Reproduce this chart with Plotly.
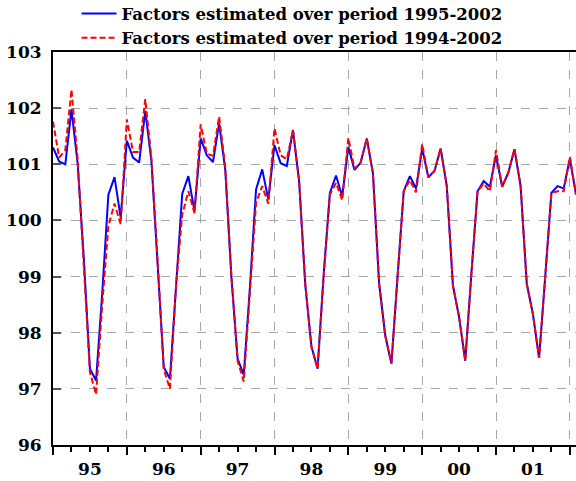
import plotly.graph_objects as go

# monthly index 0 = Jan 1995 ... 85 = Feb 2002
year_labels = ["95", "96", "97", "98", "99", "00", "01"]

f_1995_2002 = [
    101.30, 101.05, 101.00, 101.98, 101.02, 99.34, 97.36, 97.15, 98.70, 100.46, 100.77, 100.05,
    101.42, 101.12, 101.03, 101.95, 101.05, 99.28, 97.39, 97.18, 98.90, 100.47, 100.79, 100.16,
    101.46, 101.16, 101.04, 101.73, 100.90, 98.98, 97.54, 97.25, 98.80, 100.55, 100.91, 100.37,
    101.34, 101.02, 100.97, 101.61, 100.70, 98.85, 97.76, 97.36, 99.05, 100.49, 100.80, 100.43,
    101.31, 100.90, 101.03, 101.46, 100.84, 98.88, 97.95, 97.45, 99.00, 100.52, 100.79, 100.57,
    101.28, 100.77, 100.88, 101.28, 100.61, 98.84, 98.28, 97.50, 99.05, 100.52, 100.70, 100.60,
    101.16, 100.60, 100.85, 101.27, 100.61, 98.87, 98.33, 97.55, 99.00, 100.49, 100.61, 100.57,
    101.10, 100.46,
]

f_1994_2002 = [
    101.76, 101.12, 101.25, 102.33, 101.10, 99.30, 97.30, 96.90, 98.50, 99.90, 100.30, 99.93,
    101.80, 101.22, 101.22, 102.16, 101.10, 99.30, 97.35, 97.00, 98.85, 100.10, 100.52, 100.13,
    101.71, 101.19, 101.15, 101.85, 100.95, 99.00, 97.50, 97.13, 98.80, 100.31, 100.61, 100.30,
    101.64, 101.16, 101.09, 101.61, 100.70, 98.88, 97.74, 97.36, 99.02, 100.46, 100.67, 100.36,
    101.47, 100.92, 101.03, 101.46, 100.84, 98.88, 97.94, 97.45, 99.00, 100.52, 100.72, 100.50,
    101.36, 100.77, 100.88, 101.28, 100.61, 98.84, 98.28, 97.50, 99.05, 100.52, 100.66, 100.52,
    101.25, 100.60, 100.85, 101.27, 100.61, 98.87, 98.33, 97.55, 99.00, 100.49, 100.52, 100.52,
    101.13, 100.46,
]

months = list(range(len(f_1995_2002)))
year_starts = list(range(0, 85, 12))
mid_years = [y + 6 for y in year_starts]

FONT = "DejaVu Serif"

fig = go.Figure()
fig.add_trace(go.Scatter(x=months, y=f_1995_2002, mode="lines",
                         name="Factors estimated over period 1995-2002",
                         line=dict(color="#0000FF", width=2)))
fig.add_trace(go.Scatter(x=months, y=f_1994_2002, mode="lines",
                         name="Factors estimated over period 1994-2002",
                         line=dict(color="#FF0000", width=2, dash="6px,3px")))
# invisible trace to drive the label axis
fig.add_trace(go.Scatter(x=[0], y=[100], xaxis="x2", mode="markers",
                         marker=dict(opacity=0), showlegend=False, hoverinfo="skip"))

fig.update_layout(
    width=576, height=481,
    margin=dict(l=53, r=0, t=52, b=36, autoexpand=False),
    paper_bgcolor="white", plot_bgcolor="white",
    font=dict(family=FONT, size=17, color="black"),
    showlegend=True,
    legend=dict(x=0.045, y=1.142, xanchor="left", yanchor="top",
                font=dict(family=FONT, size=16.5, color="black", weight="bold"),
                bgcolor="rgba(0,0,0,0)", tracegroupgap=0, itemwidth=35),
    xaxis=dict(range=[0, 85], tickmode="array", tickvals=year_starts + [84],
               showticklabels=False, ticks="outside", ticklen=8, tickwidth=1.5,
               tickcolor="black",
               showgrid=True, gridcolor="#A8A8A8", griddash="dash", gridwidth=1,
               showline=True, linecolor="black", linewidth=2, mirror=True,
               zeroline=False,
               minor=dict(tickmode="linear", tick0=0, dtick=3, ticks="outside",
                          ticklen=5, tickcolor="black", tickwidth=1.5, showgrid=False)),
    xaxis2=dict(range=[0, 85], overlaying="x", side="bottom", tickmode="array",
                tickvals=mid_years, ticktext=year_labels, ticks="", showgrid=False,
                showline=False, zeroline=False, ticklabelstandoff=12,
                tickfont=dict(family=FONT, size=17, color="black", weight="bold")),
    yaxis=dict(range=[96, 103], tickmode="linear", tick0=96, dtick=1,
               ticks="inside", ticklen=8, tickcolor="#555555", tickwidth=1.5,
               showgrid=True, gridcolor="#A8A8A8", griddash="dash", gridwidth=1,
               showline=True, linecolor="black", linewidth=2,
               zeroline=False, ticklabelstandoff=6,
               tickfont=dict(family=FONT, size=17, color="black", weight="bold")),
)

fig.write_html("out.html")
